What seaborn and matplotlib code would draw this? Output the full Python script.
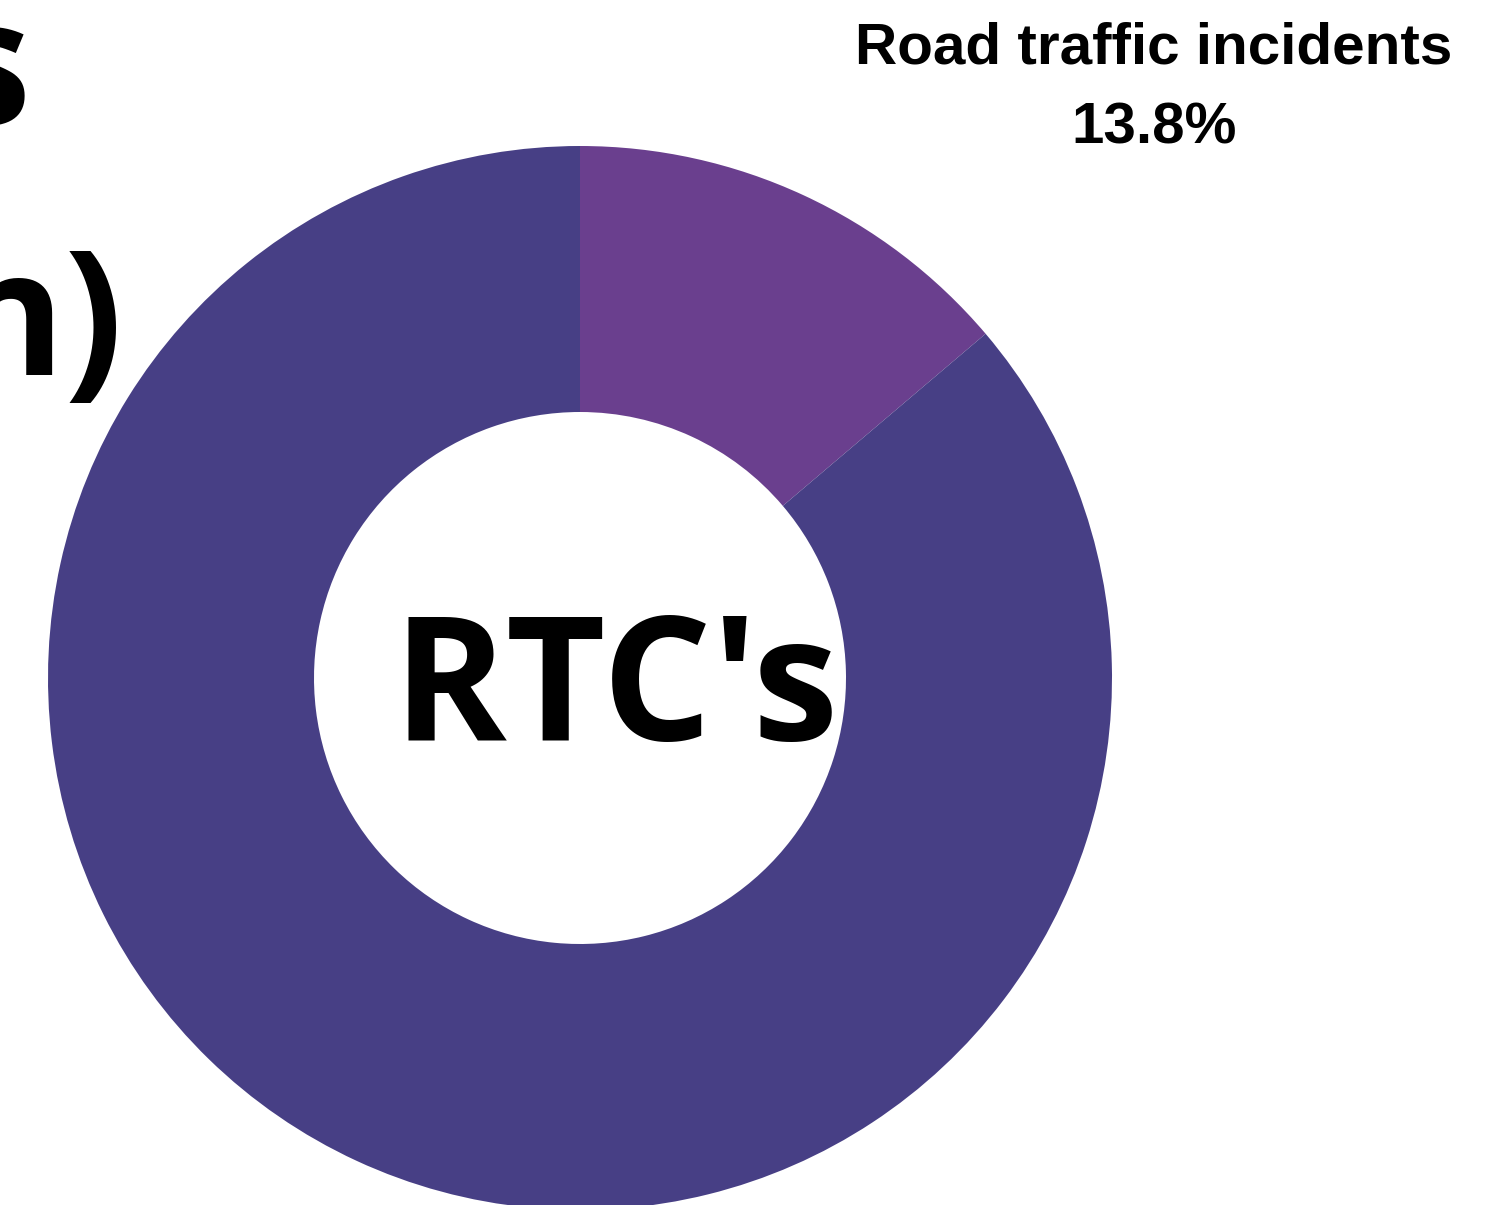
import numpy as np
import seaborn as sns
import matplotlib.pyplot as plt

# donut data (share of casualties, %)
labels = ["Road traffic incidents", "Other"]
shares = [13.8, 86.2]
colors = ["#6a3f8e", "#473f85"]
centre_text = "RTC's"
title_lines = ["s", "n)"]

sns.set_theme(style="white")

W, H = 1508, 1205
fig = plt.figure(figsize=(W / 100, H / 100), dpi=100)
ax = fig.add_axes([0, 0, 1, 1])

cx, cy, r = 580, H - 678, 532
ax.pie(shares, colors=colors, startangle=90, counterclock=False,
       center=(cx, cy), radius=r, frame=True,
       wedgeprops=dict(width=r * 0.5, linewidth=0))
ax.set_xlim(0, W)
ax.set_ylim(0, H)
ax.set_aspect("equal")
ax.axis("off")

open_sans = ["Open Sans", "DejaVu Sans"]
lab_font = ["Liberation Sans Narrow", "Liberation Sans", "DejaVu Sans"]

# centre label
ax.text(616, H - 740, centre_text, ha="center", va="baseline", fontsize=124,
        fontweight="bold", family=open_sans, color="black")

# label of the small slice
ax.text(1154, H - 63, labels[0], ha="center", va="baseline", fontsize=42,
        fontweight="bold", family=lab_font, color="black")
ax.text(1154, H - 143, f"{shares[0]:.1f}%", ha="center", va="baseline",
        fontsize=42, fontweight="bold", family=lab_font, color="black")

# big title, cut off at the left edge
ax.text(30, H - 124, title_lines[0], ha="right", va="baseline", fontsize=125,
        fontweight="bold", family=open_sans, color="black")
ax.text(123, H - 375, title_lines[1], ha="right", va="baseline", fontsize=125,
        fontweight="bold", family=open_sans, color="black")

fig.savefig("out.png", dpi=100)
